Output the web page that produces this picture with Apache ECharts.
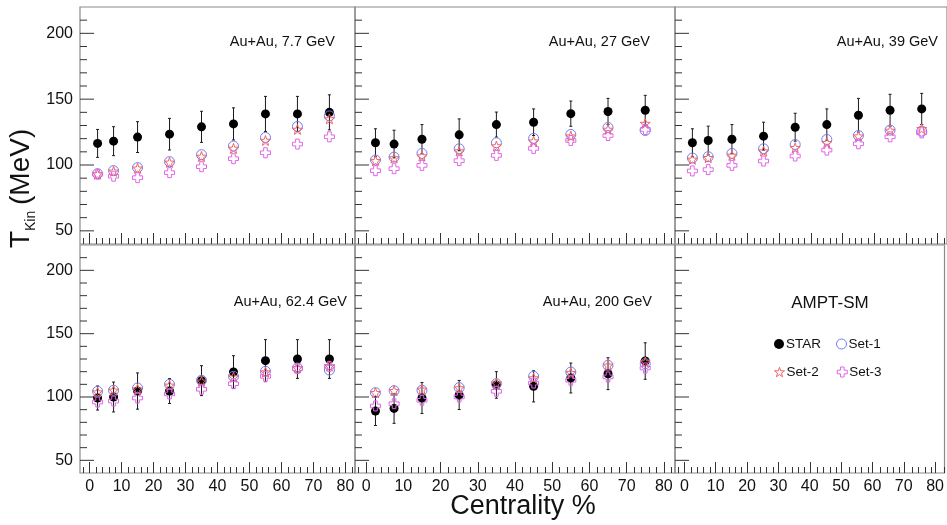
<!DOCTYPE html>
<html>
<head>
<meta charset="utf-8">
<script src="https://cdn.jsdelivr.net/npm/echarts@6/dist/echarts.min.js"></script>
<style>
  html, body { margin: 0; padding: 0; background: #fff; }
  #chart { width: 947px; height: 525px; }
</style>
</head>
<body>
<div id="chart"></div>
<script>
// centrality bin centres (%)
const cent = [2.5, 7.5, 15, 25, 35, 45, 55, 65, 75];
const panelLabels = ['Au+Au, 7.7 GeV', 'Au+Au, 27 GeV', 'Au+Au, 39 GeV', 'Au+Au, 62.4 GeV', 'Au+Au, 200 GeV'];

// Tkin (MeV) per energy
const star77 = [116.4, 118.1, 121.2, 123.4, 129.0, 131.2, 138.8, 138.8, 140.0];
const starErr77 = [10.6, 11.0, 11.7, 12.0, 11.8, 12.2, 13.3, 13.3, 13.3];
const set1_77 = [93.4, 95.7, 98.0, 102.5, 107.8, 114.4, 120.9, 129.2, 137.3];
const set2_77 = [93.0, 95.2, 97.5, 102.0, 106.5, 112.6, 118.6, 127.0, 135.0];
const set3_77 = [93.0, 91.5, 90.4, 94.2, 98.7, 104.8, 109.3, 115.9, 121.4];

const star27 = [116.9, 115.9, 119.6, 122.9, 130.7, 132.5, 139.0, 140.6, 141.6];
const starErr27 = [10.6, 10.5, 11.1, 12.1, 9.5, 10.1, 9.6, 10.0, 11.3];
const set1_27 = [103.8, 106.0, 108.8, 112.3, 116.9, 120.2, 123.2, 128.5, 126.2];
const set2_27 = [103.3, 105.3, 106.8, 110.6, 114.4, 118.1, 121.9, 127.0, 131.5];
const set3_27 = [95.7, 97.2, 99.7, 103.3, 107.3, 112.6, 118.6, 122.4, 127.0];

const star39 = [116.9, 118.6, 119.6, 121.9, 128.7, 130.7, 137.8, 141.6, 142.6];
const starErr39 = [10.6, 10.9, 11.1, 10.6, 10.6, 11.9, 12.8, 12.1, 11.8];
const set1_39 = [105.3, 106.3, 108.8, 112.3, 115.6, 119.4, 122.4, 126.5, 125.7];
const set2_39 = [104.3, 105.5, 107.3, 110.6, 113.1, 116.9, 121.9, 126.2, 127.5];
const set3_39 = [95.5, 96.5, 99.7, 103.0, 106.8, 111.3, 116.1, 121.4, 124.4];

const star62 = [99.2, 100.0, 104.7, 104.7, 112.9, 119.7, 128.7, 130.0, 130.0];
const starErr62 = [9.5, 11.8, 14.3, 9.8, 11.8, 12.9, 16.6, 15.3, 15.3];
const set1_62 = [104.5, 105.3, 107.1, 110.0, 113.2, 116.3, 120.3, 122.9, 121.3];
const set2_62 = [103.9, 105.3, 106.1, 109.2, 112.4, 115.8, 119.7, 122.9, 124.5];
const set3_62 = [96.0, 96.8, 99.2, 102.4, 106.1, 110.5, 116.3, 122.4, 124.2];

const star200 = [88.9, 91.0, 99.2, 101.6, 109.5, 108.4, 115.0, 118.4, 128.4];
const starErr200 = [11.4, 11.8, 12.2, 11.5, 10.5, 12.3, 11.8, 12.6, 14.4];
const set1_200 = [103.4, 105.0, 105.3, 107.4, 110.5, 116.3, 119.7, 125.0, 126.3];
const set2_200 = [103.4, 105.0, 106.0, 107.1, 110.8, 115.0, 119.2, 125.0, 127.6];
const set3_200 = [92.9, 94.7, 97.4, 100.0, 104.5, 111.0, 113.2, 115.8, 122.9];

// ticks
const xMajor = [0, 10, 20, 30, 40, 50, 60, 70, 80];
const xMinor = [-2, 2, 4, 6, 8, 12, 14, 16, 18, 22, 24, 26, 28, 32, 34, 36, 38, 42, 44, 46, 48, 52, 54, 56, 58, 62, 64, 66, 68, 72, 74, 76, 78, 82];
const yMajor = [50, 100, 150, 200];
const yMinor = [60, 70, 80, 90, 110, 120, 130, 140, 160, 170, 180, 190, 210];

const panels = [
  { star: star77, err: starErr77, s1: set1_77, s2: set2_77, s3: set3_77 },
  { star: star27, err: starErr27, s1: set1_27, s2: set2_27, s3: set3_27 },
  { star: star39, err: starErr39, s1: set1_39, s2: set2_39, s3: set3_39 },
  { star: star62, err: starErr62, s1: set1_62, s2: set2_62, s3: set3_62 },
  { star: star200, err: starErr200, s1: set1_200, s2: set2_200, s3: set3_200 }
];

const FONT = '"Liberation Sans", Arial, Helvetica, sans-serif';
const C_SET1 = '#6f7cf6';
const C_SET2 = '#f26464';
const C_SET3 = '#e066e8';
const HOLLOW = 'rgba(255,255,255,0)';
const STAR_PATH = 'path://M0,-10L2.35,-3.24L9.51,-3.09L3.8,1.24L5.88,8.09L0,4L-5.88,8.09L-3.8,1.24L-9.51,-3.09L-2.35,-3.24Z';
const CROSS_PATH = 'path://M-1.8,-5H1.8V-1.8H5V1.8H1.8V5H-1.8V1.8H-5V-1.8H-1.8Z';

const frames = [
  { left: 80, top: 7, width: 275, height: 237 },
  { left: 355, top: 7, width: 320, height: 237 },
  { left: 675, top: 7, width: 272, height: 237 },
  { left: 80, top: 245, width: 275, height: 228 },
  { left: 355, top: 245, width: 320, height: 228 },
  { left: 675, top: 245, width: 272, height: 228 }
];

const tickLine = { color: '#333', width: 1 };
const grids = [], xAxes = [], yAxes = [], series = [];
const n = frames.length;
// grids 0..5 carry data + major ticks, grids 6..11 overlay the same frames for minor ticks
frames.forEach((f) => grids.push(Object.assign({ show: true, borderColor: '#8a8a8a', borderWidth: 1.2 }, f)));
frames.forEach((f) => grids.push(Object.assign({ show: false }, f)));
for (let g = 0; g < 2 * n; g++) {
  const i = g % n, minor = g >= n;
  const bottomRow = i >= 3, leftCol = i % 3 === 0;
  xAxes.push({
    type: 'value', gridIndex: g, position: 'bottom', min: -3, max: 83,
    axisLine: { show: false, onZero: false }, splitLine: { show: false },
    axisTick: { show: true, inside: true, length: minor ? 6 : 11, customValues: minor ? xMinor : xMajor, lineStyle: tickLine },
    axisLabel: { show: !minor && bottomRow, customValues: xMajor, fontSize: 16, margin: 6, color: '#111', fontFamily: FONT }
  });
  yAxes.push({
    type: 'value', gridIndex: g, position: 'left', min: 40, max: 220,
    axisLine: { show: false, onZero: false }, splitLine: { show: false },
    axisTick: { show: false },
    axisLabel: { show: !minor && leftCol, customValues: yMajor, fontSize: 16, margin: 7, color: '#111', fontFamily: FONT }
  });
}

// left-edge y ticks, placed through the y scale of each panel
const yTickSeries = (i, values, len) => ({
  type: 'custom', silent: true, z: 1, xAxisIndex: i, yAxisIndex: i,
  encode: { y: 0 },
  data: values.map((v) => [v]),
  renderItem(params, api) {
    const y = api.coord([0, api.value(0)])[1];
    const x0 = params.coordSys.x;
    return { type: 'line', shape: { x1: x0, y1: y, x2: x0 + len, y2: y }, style: { stroke: '#333', lineWidth: 1 } };
  }
});
frames.forEach((f, i) => {
  series.push(yTickSeries(i, yMajor, 14));
  series.push(yTickSeries(i, yMinor, 7));
});

panels.forEach((p, i) => {
  const ax = { xAxisIndex: i, yAxisIndex: i };
  series.push(Object.assign({
    type: 'custom', name: 'STAR err', silent: true, z: 2,
    encode: { x: 0, y: [1, 2] },
    data: cent.map((c, k) => [c, p.star[k] - p.err[k], p.star[k] + p.err[k]]),
    renderItem(params, api) {
      const lo = api.coord([api.value(0), api.value(1)]);
      const hi = api.coord([api.value(0), api.value(2)]);
      const st = { stroke: '#1a1a1a', lineWidth: 1 };
      return { type: 'group', children: [
        { type: 'line', shape: { x1: lo[0], y1: lo[1], x2: hi[0], y2: hi[1] }, style: st },
        { type: 'line', shape: { x1: lo[0] - 1.5, y1: lo[1], x2: lo[0] + 1.5, y2: lo[1] }, style: st },
        { type: 'line', shape: { x1: hi[0] - 1.5, y1: hi[1], x2: hi[0] + 1.5, y2: hi[1] }, style: st }
      ] };
    }
  }, ax));
  series.push(Object.assign({
    type: 'scatter', name: 'STAR', symbol: 'circle', symbolSize: 9, z: 3,
    itemStyle: { color: '#000', opacity: 1 },
    data: cent.map((c, k) => [c, p.star[k]])
  }, ax));
  series.push(Object.assign({
    type: 'scatter', name: 'Set-1', symbol: 'circle', symbolSize: 10, z: 4,
    itemStyle: { color: HOLLOW, borderColor: C_SET1, borderWidth: 1, opacity: 1 },
    data: cent.map((c, k) => [c, p.s1[k]])
  }, ax));
  series.push(Object.assign({
    type: 'scatter', name: 'Set-2', symbol: STAR_PATH, symbolSize: 10, z: 5,
    itemStyle: { color: HOLLOW, borderColor: C_SET2, borderWidth: 1, opacity: 1 },
    data: cent.map((c, k) => [c, p.s2[k]])
  }, ax));
  series.push(Object.assign({
    type: 'scatter', name: 'Set-3', symbol: CROSS_PATH, symbolSize: 10, z: 6,
    itemStyle: { color: HOLLOW, borderColor: C_SET3, borderWidth: 1, opacity: 1 },
    data: cent.map((c, k) => [c, p.s3[k]])
  }, ax));
});

const labelPos = [[335, 42], [650, 42], [938, 42], [347, 302], [652, 302]];
const graphic = panelLabels.map((t, i) => ({
  type: 'text', x: labelPos[i][0], y: labelPos[i][1], z: 10,
  style: { text: t, fontSize: 14.5, fontFamily: FONT, fill: '#111', align: 'right', verticalAlign: 'middle' }
}));
graphic.push(
  { type: 'text', x: 830, y: 303, style: { text: 'AMPT-SM', fontSize: 17, fontFamily: FONT, fill: '#111', align: 'center', verticalAlign: 'middle' } },
  { type: 'text', x: 523, y: 507, style: { text: 'Centrality %', fontSize: 27, fontFamily: FONT, fill: '#111', align: 'center', verticalAlign: 'middle' } },
  { type: 'text', x: 21, y: 248, rotation: Math.PI / 2, style: { text: 'T', fontSize: 28, fontFamily: FONT, fill: '#111', align: 'left', verticalAlign: 'middle' } },
  { type: 'text', x: 31, y: 231, rotation: Math.PI / 2, style: { text: 'Kin', fontSize: 14, fontFamily: FONT, fill: '#111', align: 'left', verticalAlign: 'middle' } },
  { type: 'text', x: 21, y: 205, rotation: Math.PI / 2, style: { text: '(MeV)', fontSize: 28, fontFamily: FONT, fill: '#111', align: 'left', verticalAlign: 'middle' } }
);

const legendBase = { orient: 'horizontal', itemWidth: 10, itemHeight: 10, itemGap: 15, selectedMode: false,
  textStyle: { fontSize: 13.5, fontFamily: FONT, color: '#111', padding: [0, 0, 0, -3] } };
const hollowItem = (name, color) => ({ name: name, itemStyle: { color: HOLLOW, borderColor: color, borderWidth: 1 } });

const chart = echarts.init(document.getElementById('chart'));
chart.setOption({
  animation: false,
  backgroundColor: '#fff',
  grid: grids,
  xAxis: xAxes,
  yAxis: yAxes,
  legend: [
    Object.assign({}, legendBase, { data: ['STAR', hollowItem('Set-1', C_SET1)], left: 769, top: 332 }),
    Object.assign({}, legendBase, { data: [hollowItem('Set-2', C_SET2), hollowItem('Set-3', C_SET3)], left: 769, top: 360, itemGap: 18 })
  ],
  graphic: graphic,
  series: series
});
</script>
</body>
</html>
